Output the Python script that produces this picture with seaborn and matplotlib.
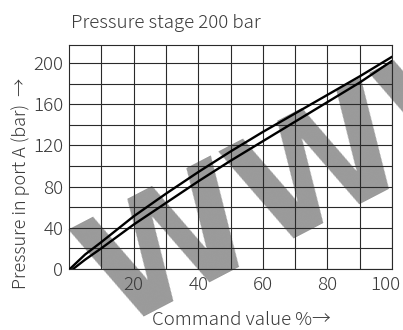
import pandas as pd
import seaborn as sns
import matplotlib.pyplot as plt
from matplotlib.transforms import ScaledTranslation

# values
upper_cmd = [0.3, 5, 10, 20, 30, 40, 50, 60, 70, 80, 90, 100]
upper_bar = [0, 14, 26, 51, 73, 94, 114, 133, 151, 169, 187, 206]
lower_cmd = [1.3, 5, 10, 20, 30, 40, 50, 60, 70, 80, 90, 100]
lower_bar = [0, 9, 20, 43, 64, 85, 105, 124, 143, 162, 181, 202]

x_ticks = [20, 40, 60, 80, 100]
x_minor = [10, 30, 50, 70, 90]
y_ticks = [0, 40, 80, 120, 160, 200]
y_minor = [20, 60, 100, 140, 180]

title = "Pressure stage 200 bar"
x_label = "Command value %\u2192"
y_label = "Pressure in port A (bar)  \u2192"

df = pd.concat([
    pd.DataFrame({'cmd': upper_cmd, 'bar': upper_bar, 'curve': 'upper'}),
    pd.DataFrame({'cmd': lower_cmd, 'bar': lower_bar, 'curve': 'lower'}),
])

sns.set_style("white")
plt.rcParams['font.family'] = ['Noto Sans CJK JP', 'DejaVu Sans']
plt.rcParams['font.weight'] = 'light'
text_col = '#3a3a3a'
fs = 13.5

fig = plt.figure(figsize=(4.03, 3.30), dpi=100)
ax = fig.add_axes([0.171, 0.185, 0.802, 0.679])

sns.lineplot(data=df, x='cmd', y='bar', hue='curve', palette=['black', 'black'],
             estimator=None, sort=False, legend=False, linewidth=1.7, ax=ax, zorder=3)

ax.set_xlim(0, 100)
ax.set_ylim(0, 217.5)
ax.set_xticks(x_ticks)
ax.set_xticks(x_minor, minor=True)
ax.set_yticks(y_ticks)
ax.set_yticks(y_minor, minor=True)
ax.tick_params(which='both', length=0, labelsize=fs, labelcolor=text_col)
ax.tick_params(axis='x', pad=5)
ax.tick_params(axis='y', pad=4)
# last x label pulled in so it stays on the canvas
last = ax.get_xticklabels()[-1]
last.set_horizontalalignment('right')
last.set_transform(last.get_transform() + ScaledTranslation(0.08, 0, fig.dpi_scale_trans))
ax.grid(which='both', color='#2a2a2a', linewidth=0.8)
ax.set_axisbelow(True)
for s in ax.spines.values():
    s.set_color('#2a2a2a')
    s.set_linewidth(0.8)
ax.set_xlabel('')
ax.set_ylabel('')

# grey watermark lettering
ax.text(0.287, 0.002, 'WWW', transform=fig.transFigure, rotation=27.5,
        rotation_mode='anchor', ha='left', va='baseline', fontsize=111,
        fontweight='bold', color='#9a9a9a', family='DejaVu Sans',
        zorder=0.2, clip_on=False)

fig.text(0.175, 0.93, title, fontsize=fs, color=text_col, ha='left', va='center')
fig.text(0.598, 0.03, x_label, fontsize=fs, color=text_col, ha='center', va='center')
fig.text(0.05, 0.445, y_label, fontsize=13, color=text_col, ha='center', va='center',
         rotation=90)

fig.savefig('out.png', dpi=100)
